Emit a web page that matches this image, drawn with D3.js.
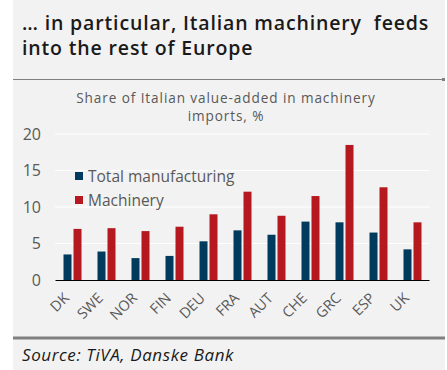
<!DOCTYPE html>
<html>
<head>
<meta charset="utf-8">
<script src="https://cdn.jsdelivr.net/npm/d3@7"></script>
<style>
  html, body { margin: 0; padding: 0; background: #ffffff; }
  svg { display: block; }
  text { white-space: pre; }
</style>
</head>
<body>
<svg id="chart" width="447" height="370"></svg>
<script>
// Country codes along the x axis
const categories = ["DK", "SWE", "NOR", "FIN", "DEU", "FRA", "AUT", "CHE", "GRC", "ESP", "UK"];
// Share of Italian value-added in imports, %
const totalManufacturing = [3.5, 3.9, 3.0, 3.3, 5.3, 6.8, 6.2, 8.0, 7.9, 6.5, 4.2];
const machinery = [7.0, 7.1, 6.7, 7.3, 9.0, 12.1, 8.8, 11.5, 18.5, 12.7, 7.9];
const yTicks = [0, 5, 10, 15, 20];
const seriesNames = ["Total manufacturing", "Machinery"];
const seriesColors = ["#003b5e", "#b5191f"];
const subtitleLines = ["Share of Italian value-added in machinery", "imports, %"];

const FONT = "'Open Sans', 'DejaVu Sans', sans-serif";
const svg = d3.select("#chart");

// Panel background
svg.append("rect").attr("x", 13).attr("y", 0).attr("width", 432).attr("height", 370)
  .attr("fill", "#f2f2f2");

// Headline
const title = svg.append("text").attr("x", 22).attr("y", 30)
  .attr("font-family", FONT).attr("font-size", 19.5).attr("font-weight", 600)
  .attr("letter-spacing", 0.85).attr("fill", "#1a1a1a");
title.append("tspan").attr("x", 22).attr("y", 30).text("… in particular, Italian machinery  feeds");
title.append("tspan").attr("x", 22).attr("y", 55).text("into the rest of Europe");

// Separator under headline
svg.append("line").attr("x1", 13).attr("x2", 442).attr("y1", 79.5).attr("y2", 79.5)
  .attr("stroke", "#808080").attr("stroke-width", 1);
svg.append("rect").attr("x", 442).attr("y", 78).attr("width", 3).attr("height", 3).attr("fill", "#808080");

// Chart subtitle, two lines
svg.append("g").selectAll("text").data(subtitleLines).join("text")
  .attr("x", 226).attr("y", (d, i) => 102.5 + i * 18.5)
  .attr("text-anchor", "middle")
  .attr("font-family", FONT).attr("font-size", 13.6).attr("letter-spacing", 0.9)
  .attr("fill", "#595959").text(d => d);

// Scales
const x = d3.scaleBand().domain(categories).range([55, 429]).paddingInner(0).paddingOuter(0);
const y = d3.scaleLinear().domain([0, 20]).range([280, 134]);
const barW = 8, gap = 2;

// Gridlines
svg.append("g").selectAll("line").data(yTicks.filter(d => d > 0)).join("line")
  .attr("x1", 55).attr("x2", 429)
  .attr("y1", d => y(d)).attr("y2", d => y(d))
  .attr("stroke", "#ffffff").attr("stroke-width", 1.2);

// Y axis labels
const yAxis = svg.append("g").attr("transform", "translate(55,0)")
  .call(d3.axisLeft(y).tickValues(yTicks).tickSize(0).tickPadding(14));
yAxis.select(".domain").remove();
yAxis.selectAll("text").attr("font-family", FONT).attr("font-size", 16).attr("fill", "#595959");

// Bars
const series = [totalManufacturing, machinery];
series.forEach((vals, si) => {
  svg.append("g").selectAll("rect").data(categories).join("rect")
    .attr("x", d => x(d) + x.bandwidth() / 2 - barW - gap / 2 + si * (barW + gap) + 0.5)
    .attr("y", (d, i) => y(vals[i]))
    .attr("width", barW)
    .attr("height", (d, i) => y(0) - y(vals[i]))
    .attr("fill", seriesColors[si]);
});

// X axis
const xAxis = svg.append("g").attr("transform", "translate(0,280)")
  .call(d3.axisBottom(x).tickSize(0).tickPadding(0));
xAxis.select(".domain").attr("stroke", "#000").attr("stroke-width", 1.2);
xAxis.selectAll("text")
  .attr("font-family", FONT).attr("font-size", 14.5).attr("fill", "#595959")
  .attr("text-anchor", "end")
  .attr("dy", 0)
  .attr("transform", "translate(-2,19) rotate(-45)");

// Legend
const legend = svg.append("g");
seriesNames.forEach((name, i) => {
  const ly = 172 + i * 24;
  legend.append("rect").attr("x", 75).attr("y", ly).attr("width", 8).attr("height", 8)
    .attr("fill", seriesColors[i]);
  legend.append("text").attr("x", 88).attr("y", ly + 9.5)
    .attr("font-family", FONT).attr("font-size", 15.5).attr("fill", "#595959").text(name);
});

// Bottom rule and source note
svg.append("rect").attr("x", 13).attr("y", 336.5).attr("width", 432).attr("height", 3).attr("fill", "#808080");
svg.append("text").attr("x", 22).attr("y", 361)
  .attr("font-family", FONT).attr("font-size", 17).attr("font-style", "italic")
  .attr("letter-spacing", 0.6).attr("fill", "#1a1a1a").text("Source: TiVA, Danske Bank");
</script>
</body>
</html>
